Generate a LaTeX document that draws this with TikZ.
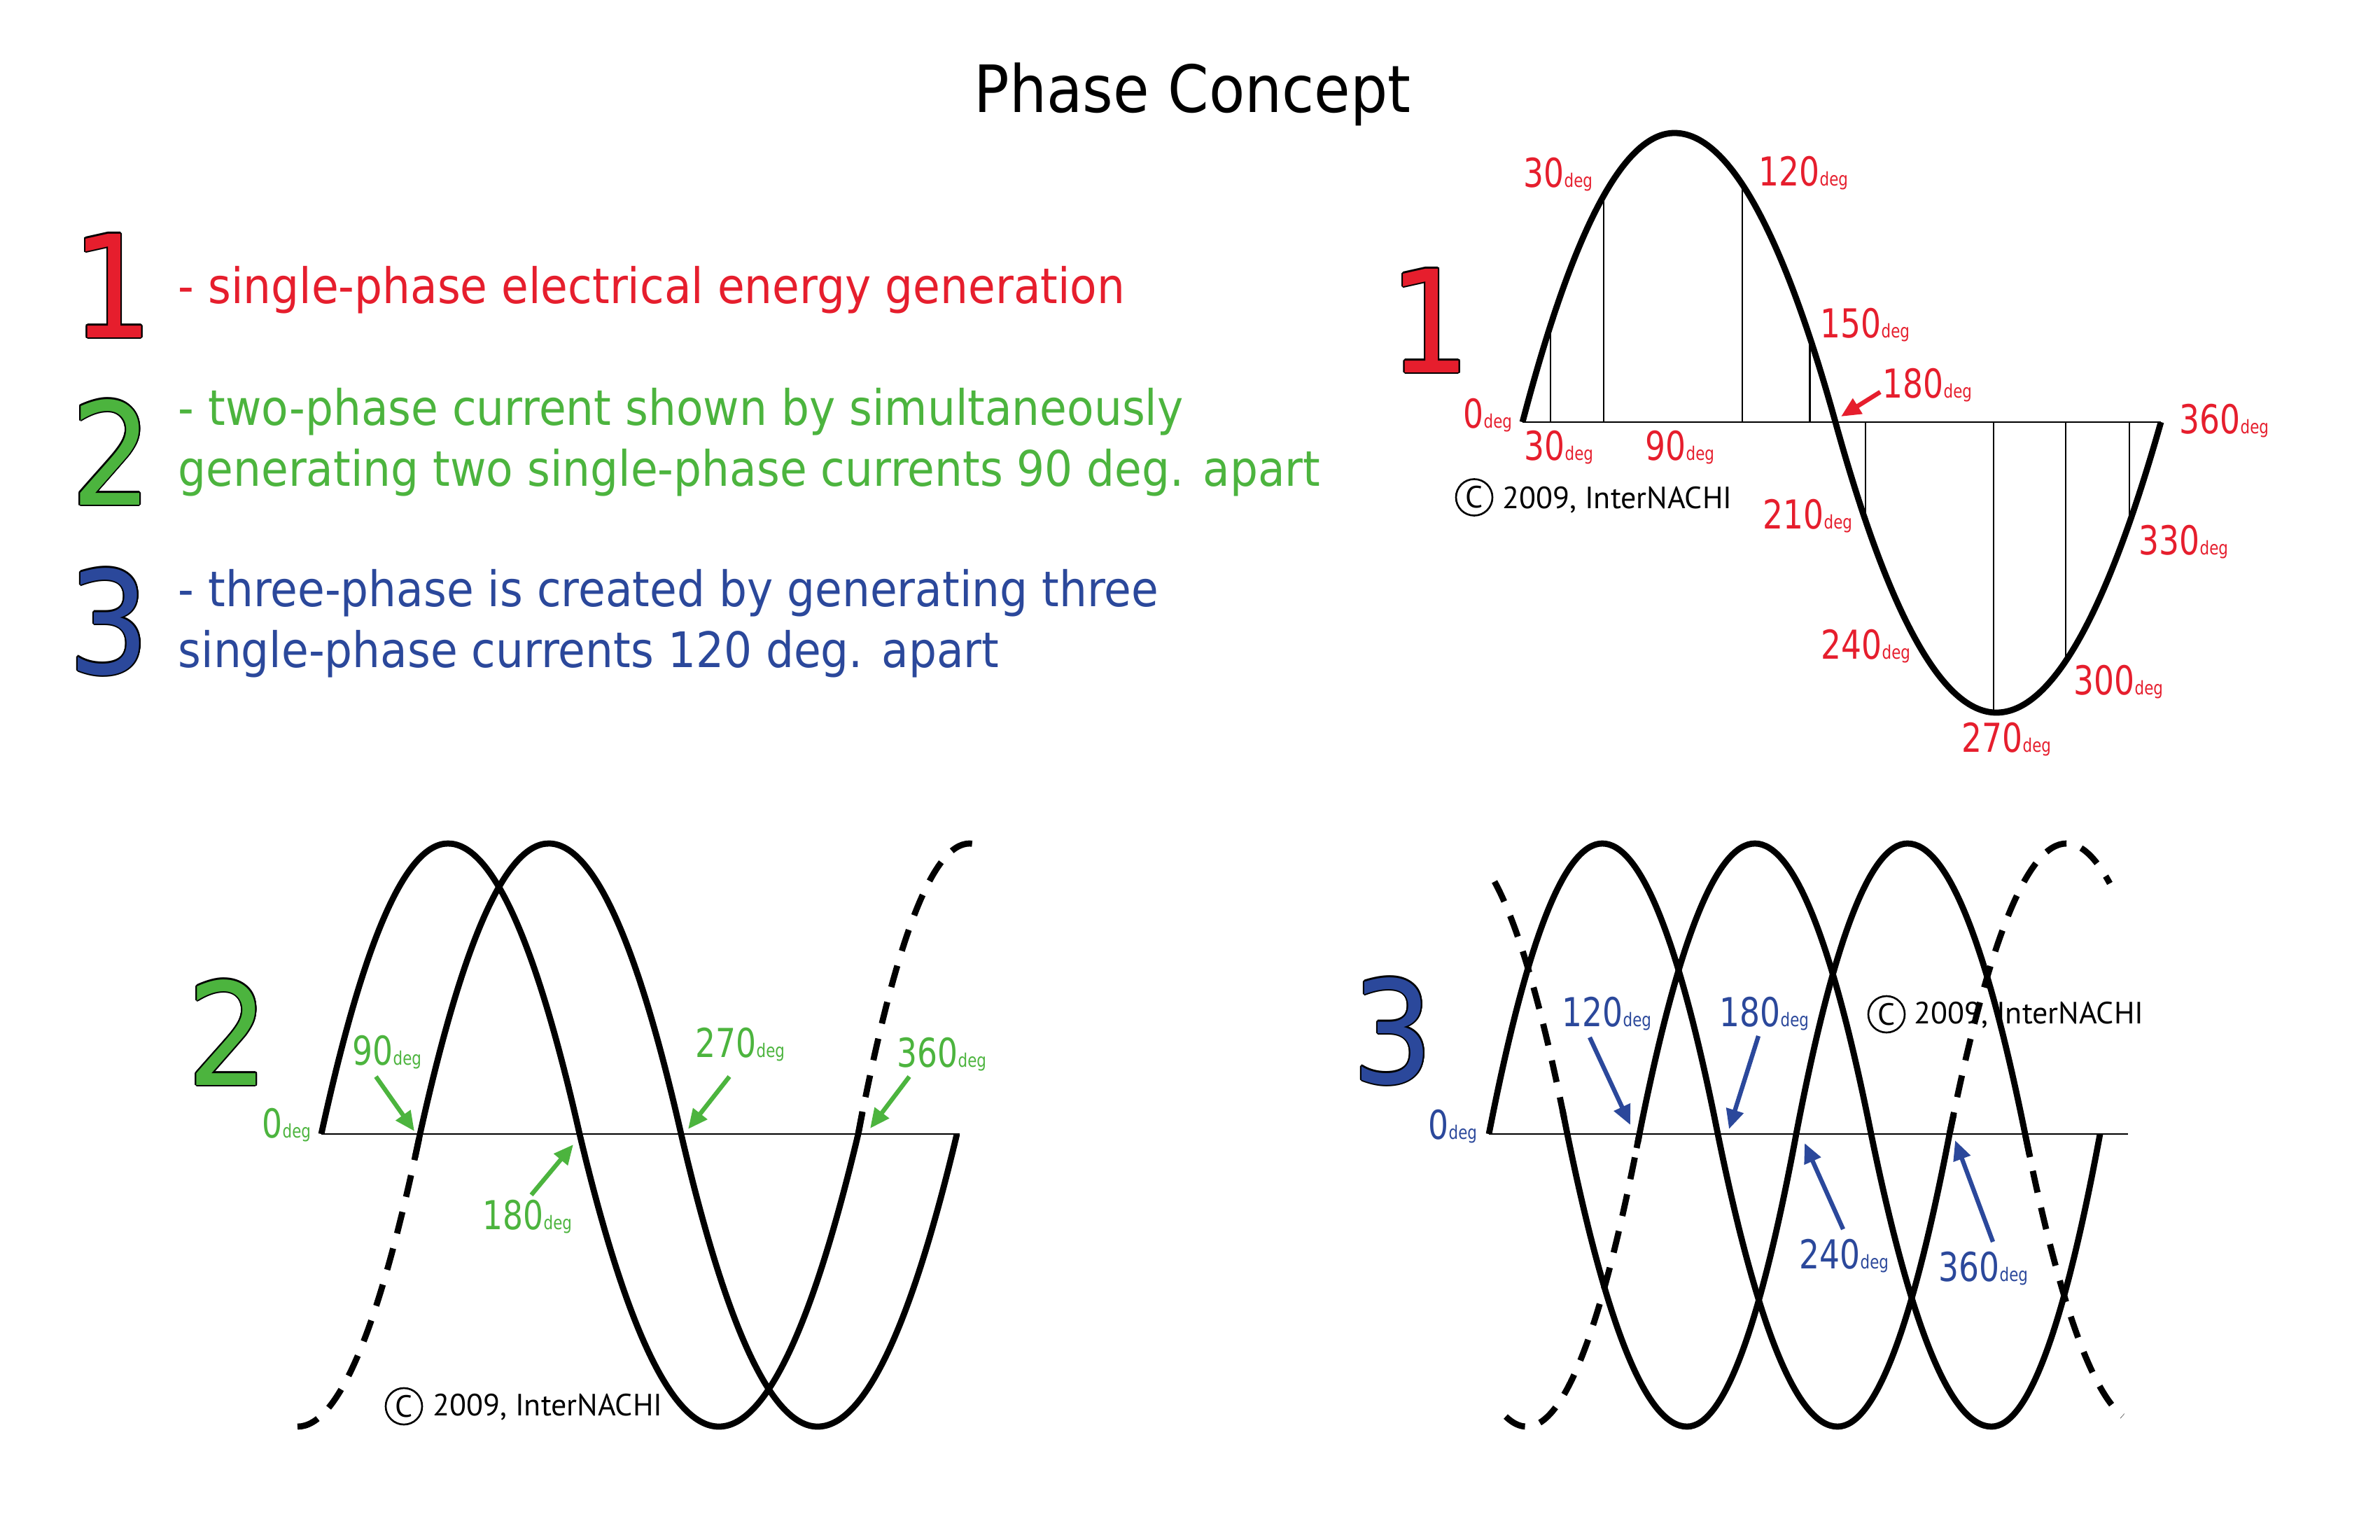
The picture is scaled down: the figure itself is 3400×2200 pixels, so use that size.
\documentclass[tikz,border=0pt]{standalone}
\usepackage{fontspec}
\usepackage{contour}
\usetikzlibrary{arrows.meta}
\newfontfamily\tahfont{DejaVu Sans}[FakeStretch=0.9]
\newfontfamily\lblfont{DejaVu Sans}[FakeStretch=0.8]
\newfontfamily\cpfont{PT Sans}
\definecolor{nred}{RGB}{230,30,45}
\definecolor{ngreen}{RGB}{76,180,62}
\definecolor{nblue}{RGB}{43,72,155}
\contourlength{0.6pt}
% quadratic Bezier segment from (#1,#2) with control (#3,#4) to (#5,#6)
\newcommand\qs[6]{.. controls ({#1+2*(#3-#1)/3},{#2+2*(#4-#2)/3}) and ({#5+2*(#3-#5)/3},{#6+2*(#4-#6)/3}) .. (#5,#6)}
\newcommand\dg[1]{{\fontsize{16.2}{18}\lblfont #1}{\fontsize{7.6}{8}\lblfont deg}}
\tikzset{
  curve/.style={line width=2.5pt, black},
  dcurve/.style={curve, dash pattern=on 9pt off 6.3pt},
  axisline/.style={line width=0.7pt, black},
  tickline/.style={line width=0.6pt, black},
  arr/.style={line width=1.8pt, -{Triangle[length=8pt,width=7pt]}},
  glbl/.style={inner sep=0, anchor=base west},
  body/.style={inner sep=0, anchor=base west, font=\fontsize{19.9}{24}\tahfont},
  bignum/.style={inner sep=0, anchor=base, font=\fontsize{57.8}{60}\tahfont},
  cpc/.style={circle, draw, line width=0.75pt, minimum size=0.52cm, inner sep=0, font=\fontsize{12.5}{14}\cpfont},
  cpt/.style={inner sep=0, anchor=base west, font=\fontsize{12.5}{14}\cpfont},
}
\begin{document}
\begin{tikzpicture}[x=0.01cm, y=-0.01cm]
\useasboundingbox[fill=white] (0,0) rectangle (3400,2200);

% ---------- title and legend ----------
\node[inner sep=0, anchor=base, font=\fontsize{26.5}{30}\tahfont] (title) at (1703.5,160) {Phase Concept};

\node[bignum, text=nred] (b1) at (160.5,482) {\contour{black}{1}};
\node[bignum, text=ngreen] (b2) at (159.5,721) {\contour{black}{2}};
\node[bignum, text=nblue] (b3) at (156,962) {\contour{black}{3}};

\node[body, text=nred] (t1) at (254,433) {- single-phase electrical energy generation};
\node[body, text=ngreen] (t2a) at (254,607) {- two-phase current shown by simultaneously};
\node[body, text=ngreen] (t2b) at (254,694) {generating two single-phase currents 90 deg. apart};
\node[body, text=nblue] (t3a) at (254,866) {- three-phase is created by generating three};
\node[body, text=nblue] (t3b) at (254,953) {single-phase currents 120 deg. apart};

% ---------- graph 1 ----------
\node[bignum, text=nred] (g1num) at (2043,532) {\contour{black}{1}};
\node[cpc] (c1) at (2106,710.5) {C};
\node[cpt] (c1t) at (2146,726) {2009, InterNACHI};

\draw[axisline] (2175,603) -- (3087,603);
\draw[tickline] (2215,603) -- (2215,464.8);
\draw[tickline] (2290.7,603) -- (2290.7,280);
\draw[tickline] (2489,603) -- (2489,263.4);
\draw[tickline] (2585.5,603) -- (2585.5,482.4);
\draw[tickline] (2664.7,603) -- (2664.7,742.7);
\draw[tickline] (2848,603) -- (2848,1018);
\draw[tickline] (2951.4,603) -- (2951.4,943.8);
\draw[tickline] (3041.8,603) -- (3041.8,747.3);
\draw[curve] (2175,603) \qs{2175}{603}{2283.5}{190}{2392}{190}
  \qs{2392}{190}{2507}{190}{2622}{603}
  \qs{2622}{603}{2737}{1018}{2852}{1018}
  \qs{2852}{1018}{2969.5}{1018}{3087}{603};

\node[glbl, text=nred] (g1l0) at (2090,611) {\dg{0}};
\node[glbl, text=nred] (g1l30b) at (2177,657) {\dg{30}};
\node[glbl, text=nred] (g1l90) at (2350,657) {\dg{90}};
\node[glbl, text=nred] (g1l30t) at (2176,268) {\dg{30}};
\node[glbl, text=nred] (g1l120) at (2512,265) {\dg{120}};
\node[glbl, text=nred] (g1l150) at (2600,482) {\dg{150}};
\node[glbl, text=nred] (g1l180) at (2689,568) {\dg{180}};
\node[glbl, text=nred] (g1l360) at (3113,619) {\dg{360}};
\node[glbl, text=nred] (g1l210) at (2518,755) {\dg{210}};
\node[glbl, text=nred] (g1l330) at (3055,792) {\dg{330}};
\node[glbl, text=nred] (g1l240) at (2601,941) {\dg{240}};
\node[glbl, text=nred] (g1l300) at (2962,992) {\dg{300}};
\node[glbl, text=nred] (g1l270) at (2802,1074) {\dg{270}};
\coordinate (g1a1s) at (2686,560);
\coordinate (g1a1e) at (2630,595);
\draw[arr, nred] (g1a1s) -- (g1a1e);

% ---------- graph 2 ----------
\node[bignum, text=ngreen] (g2num) at (326,1550) {\contour{black}{2}};
\node[cpc] (c2) at (577,2009) {C};
\node[cpt] (c2t) at (618,2022.5) {2009, InterNACHI};

\draw[axisline] (459,1620) -- (1371,1620);
% dashed parts
\draw[dcurve] (425,2038) \qs{425}{2038}{512.5}{2038}{600}{1620};
\draw[dcurve] (1226,1620) \qs{1226}{1620}{1305.5}{1205}{1385}{1205}
  \qs{1385}{1205}{1395}{1205}{1405}{1212};
% curve A
\draw[curve] (459,1620) \qs{459}{1620}{549.5}{1205}{640}{1205}
  \qs{640}{1205}{734}{1205}{828}{1620}
  \qs{828}{1620}{927.5}{2038}{1027}{2038}
  \qs{1027}{2038}{1126.5}{2038}{1226}{1620} -- (1232,1588);
% curve B
\draw[curve] (593,1653) -- (600,1620) \qs{600}{1620}{692}{1205}{784}{1205}
  \qs{784}{1205}{878.5}{1205}{973}{1620}
  \qs{973}{1620}{1070.5}{2038}{1168}{2038}
  \qs{1168}{2038}{1267.5}{2038}{1367}{1620};

\node[glbl, text=ngreen] (g2l0) at (374,1625) {\dg{0}};
\node[glbl, text=ngreen] (g2l90) at (503,1521) {\dg{90}};
\node[glbl, text=ngreen] (g2l270) at (993,1510) {\dg{270}};
\node[glbl, text=ngreen] (g2l360) at (1281,1524) {\dg{360}};
\node[glbl, text=ngreen] (g2l180) at (689,1756) {\dg{180}};
\coordinate (g2a1s) at (537,1538);
\coordinate (g2a1e) at (592,1616);
\coordinate (g2a2s) at (1042,1538);
\coordinate (g2a2e) at (983,1613);
\coordinate (g2a3s) at (1299,1538);
\coordinate (g2a3e) at (1243,1612);
\coordinate (g2a4s) at (759,1707);
\coordinate (g2a4e) at (819,1635);
\draw[arr, ngreen] (g2a1s) -- (g2a1e);
\draw[arr, ngreen] (g2a2s) -- (g2a2e);
\draw[arr, ngreen] (g2a3s) -- (g2a3e);
\draw[arr, ngreen] (g2a4s) -- (g2a4e);

% ---------- graph 3 ----------
\node[bignum, text=nblue] (g3num) at (1990,1547) {\contour{black}{3}};
\node[cpc] (c3) at (2695,1449) {C};
\node[cpt] (c3t) at (2734,1462) {2009, InterNACHI};

\draw[axisline] (2127,1620) -- (3040,1620);
% dashed parts
\draw[dcurve] (2785,1620) \qs{2785}{1620}{2868.5}{1205}{2952}{1205}
  \qs{2952}{1205}{2983}{1205}{3014}{1262};
\draw[dcurve] (2151,2023.6) \qs{2151}{2023.6}{2166}{2038}{2181}{2038}
  \qs{2181}{2038}{2261.5}{2038}{2342}{1620};
\draw[dcurve] (2135,1259.4) \qs{2135}{1259.4}{2187}{1355.2}{2239}{1620};
\draw[dcurve] (2893,1620) \qs{2893}{1620}{2962.5}{1965.4}{3032}{2023};
% curve 1
\draw[curve] (2127,1620) \qs{2127}{1620}{2208}{1205}{2289}{1205}
  \qs{2289}{1205}{2371.5}{1205}{2454}{1620}
  \qs{2454}{1620}{2539.5}{2038}{2625}{2038}
  \qs{2625}{2038}{2705}{2038}{2785}{1620} -- (2791,1592);
% curve 2
\draw[curve] (2338,1640) -- (2342,1620) \qs{2342}{1620}{2424.5}{1205}{2507}{1205}
  \qs{2507}{1205}{2590}{1205}{2673}{1620}
  \qs{2673}{1620}{2759}{2038}{2845}{2038}
  \qs{2845}{2038}{2922.5}{2038}{3000}{1620};
% curve 3
\draw[curve] (2232,1585) -- (2239,1620) \qs{2239}{1620}{2324.5}{2038}{2410}{2038}
  \qs{2410}{2038}{2488}{2038}{2566}{1620}
  \qs{2566}{1620}{2645.5}{1205}{2725}{1205}
  \qs{2725}{1205}{2809}{1205}{2893}{1620} -- (2900,1653);

\node[glbl, text=nblue] (g3l0) at (2040,1627) {\dg{0}};
\node[glbl, text=nblue] (g3l120) at (2231,1466) {\dg{120}};
\node[glbl, text=nblue] (g3l180) at (2456,1466) {\dg{180}};
\node[glbl, text=nblue] (g3l240) at (2570,1812) {\dg{240}};
\node[glbl, text=nblue] (g3l360) at (2769,1830) {\dg{360}};
\coordinate (g3a1s) at (2271,1482);
\coordinate (g3a1e) at (2329,1607);
\coordinate (g3a2s) at (2512,1480);
\coordinate (g3a2e) at (2470,1613);
\coordinate (g3a3s) at (2633,1756);
\coordinate (g3a3e) at (2578,1633);
\coordinate (g3a4s) at (2847,1774);
\coordinate (g3a4e) at (2793,1629);
\draw[arr, nblue] (g3a1s) -- (g3a1e);
\draw[arr, nblue] (g3a2s) -- (g3a2e);
\draw[arr, nblue] (g3a3s) -- (g3a3e);
\draw[arr, nblue] (g3a4s) -- (g3a4e);
\end{tikzpicture}
\end{document}
